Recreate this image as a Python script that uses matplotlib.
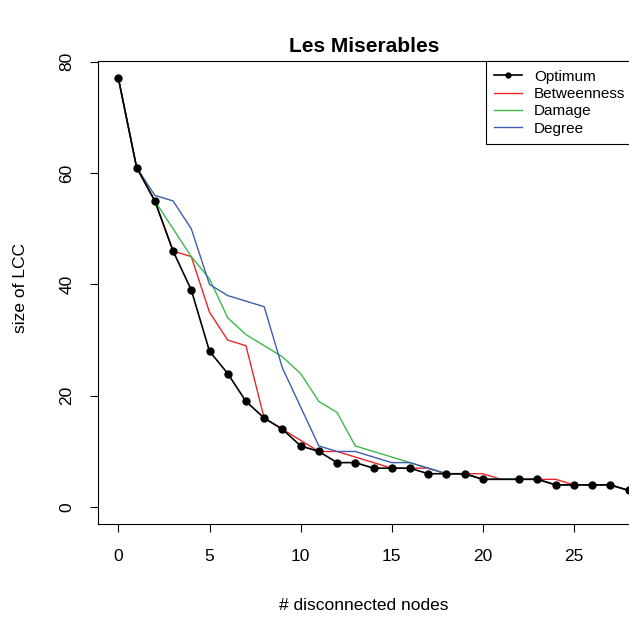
import numpy as np
import matplotlib.pyplot as plt

plt.rcParams['font.family'] = ['Liberation Sans', 'DejaVu Sans']

# optimum has no value at 21 disconnected nodes
opt_x = [0, 1, 2, 3, 4, 5, 6, 7, 8, 9, 10, 11, 12, 13, 14, 15, 16, 17, 18, 19, 20,
         22, 23, 24, 25, 26, 27, 28]
opt_y = [77, 61, 55, 46, 39, 28, 24, 19, 16, 14, 11, 10, 8, 8, 7, 7, 7, 6, 6, 6, 5,
         5, 5, 4, 4, 4, 4, 3]

x = list(range(29))
betweenness = [77, 61, 55, 46, 45, 35, 30, 29, 16, 14, 12, 10, 10, 9, 8, 7, 7, 7, 6, 6,
               6, 5, 5, 5, 5, 4, 4, 4, 3]
damage = [77, 61, 55, 50, 45, 41, 34, 31, 29, 27, 24, 19, 17, 11, 10, 9, 8, 7, 6, 6,
          5, 5, 5, 5, 4, 4, 4, 4, 3]
degree = [77, 61, 56, 55, 50, 40, 38, 37, 36, 25, 18, 11, 10, 10, 9, 8, 8, 7, 6, 6,
          5, 5, 5, 5, 4, 4, 4, 4, 3]

W, H = 629, 619
fig = plt.figure(figsize=(W / 100, H / 100), dpi=100)
# plot box runs past the right edge of the image, as in the reference
ax = fig.add_axes([98 / W, 1 - 524.3 / H, (649 - 98) / W, (524.3 - 61.3) / H])

ax.plot(x, betweenness, color='#e8262a', lw=1.0, label='Betweenness', zorder=2)
ax.plot(x, damage, color='#3db84a', lw=1.0, label='Damage', zorder=2)
ax.plot(x, degree, color='#3f5db0', lw=1.0, label='Degree', zorder=2)
ax.plot(opt_x, opt_y, color='black', lw=1.2, marker='o', ms=5,
        label='Optimum', zorder=3)

ax.set_xlim(-1.12, 29.12)
ax.set_ylim(-3.08, 80.08)
ax.set_xticks([0, 5, 10, 15, 20, 25])
ax.set_yticks([0, 20, 40, 60, 80])
ax.tick_params(direction='out', length=6, width=0.8, labelsize=12.5)
ax.tick_params(axis='x', pad=12)
ax.tick_params(axis='y', pad=11)
for lab in ax.get_yticklabels():
    lab.set_rotation(90)
    lab.set_va('center')
for s in ax.spines.values():
    s.set_linewidth(0.8)

fig.text(364 / W, 1 - 46 / H, 'Les Miserables', ha='center', va='center',
         fontsize=15, fontweight='bold')
fig.text(364 / W, 1 - 605 / H, '# disconnected nodes', ha='center', va='center',
         fontsize=12.5)
fig.text(21 / W, 1 - 288 / H, 'size of LCC', ha='center', va='center',
         rotation=90, fontsize=12.5)

h, l = ax.get_legend_handles_labels()
order = [3, 0, 1, 2]
leg = ax.legend([h[i] for i in order], [l[i] for i in order], loc='upper left',
                bbox_to_anchor=(485.7 / W, 1 - 61.3 / H), bbox_transform=fig.transFigure,
                borderaxespad=0, fancybox=False, framealpha=1, edgecolor='black',
                fontsize=11, handlelength=1.8, handletextpad=0.8, labelspacing=0.22,
                borderpad=0.55, markerscale=0.7)
leg.get_frame().set_linewidth(0.8)

fig.savefig('out.png', dpi=100)
